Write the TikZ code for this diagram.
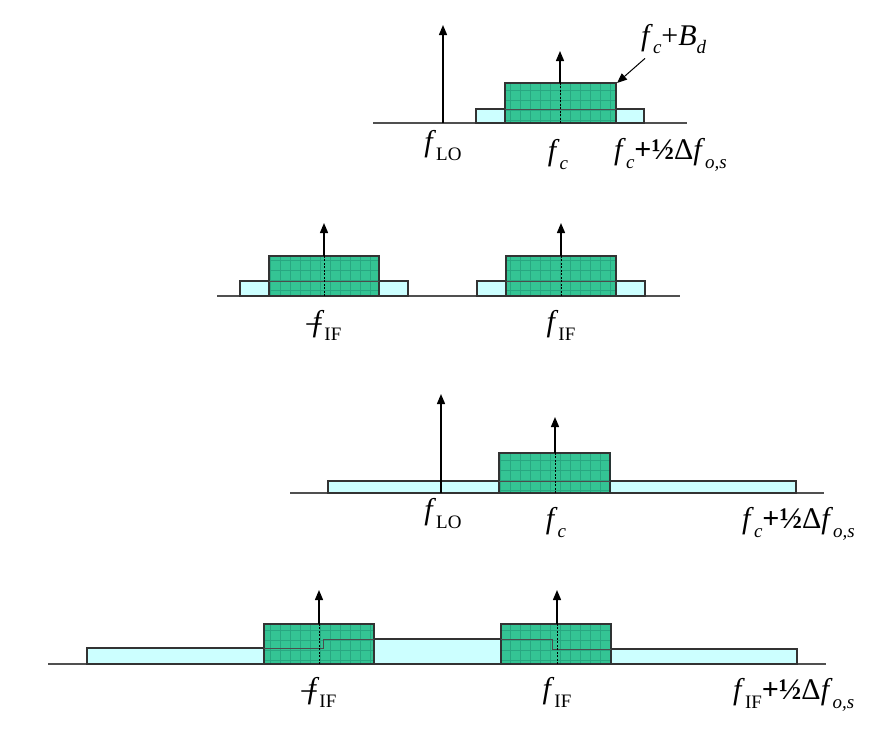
\documentclass[tikz,border=0pt]{standalone}
\usepackage{fontspec}
\setmainfont{Liberation Serif}
\usetikzlibrary{arrows.meta}
\definecolor{bandcyan}{RGB}{204,255,255}
\definecolor{bandgreen}{RGB}{52,196,148}
\definecolor{axisgray}{RGB}{80,80,80}
\newcommand{\fsub}[1]{\raisebox{-0.3em}{\fontsize{19}{19}\selectfont #1}}
\newcommand{\fit}{\textit{f}}
\newcommand{\halfdf}{\textbf{+½}Δ\textit{f}\fsub{\textit{o,s}}}

\tikzset{
  axisline/.style={draw=axisgray, line width=1.3pt},
  sideband/.style={fill=bandcyan, draw=black!80, line width=1.3pt},
  mainband/.style={fill=bandgreen, draw=black!80, line width=1.3pt},
  texture/.style={draw=teal!50!black, line width=0.4pt, opacity=0.22},
  seethru/.style={draw=black!70, line width=1pt},
  impulse/.style={-{Triangle[length=10pt,width=8pt]}, line width=1.4pt},
  hidden/.style={line width=0.8pt, dash pattern=on 2pt off 1.5pt},
  lbl/.style={font=\fontsize{30}{34}\selectfont, inner sep=1pt},
}

\begin{document}
\begin{tikzpicture}[x=1pt, y=-1pt]
    \useasboundingbox (0,0) rectangle (885,744);

    % RF spectrum
    \draw[axisline] (373,123) -- (687,123);
    \draw[sideband] (476,123) rectangle (644,109);
    \draw[mainband] (505,123) rectangle (616,83);
    \draw[texture, step=10pt] (505,123) grid (616,83);
    \draw[seethru] (505,109) -- (616,109);
    \coordinate (lo1) at (443,123);
    \coordinate (lo1top) at (443,25);
    \coordinate (c1) at (560,123);
    \coordinate (c1g) at (560,83);
    \coordinate (c1top) at (560,51);
    \coordinate (bdcorner) at (617,83);
    \draw[impulse] (lo1) -- (lo1top);
    \draw[hidden] (c1) -- (c1g);
    \draw[impulse] (c1g) -- (c1top);
    \node[lbl, anchor=base] (lo1lbl) at (443,151) {\fit\fsub{LO}};
    \node[lbl, anchor=base] (c1lbl) at (558,160) {\fit\fsub{\textit{c}}};
    \node[lbl, anchor=base west] (edge1lbl) at (613,159) {\fit\fsub{\textit{c}}\halfdf};
    \node[lbl, anchor=base west] (bdlbl) at (640,45) {\fit\fsub{\textit{c}}+\textit{B}\fsub{\textit{d}}};
    \draw[-{Triangle[length=10pt,width=8pt]}, line width=1pt] ([xshift=5pt,yshift=-3pt]bdlbl.south west) -- (bdcorner);

    % IF spectrum, narrow filter
    \draw[axisline] (217,296) -- (680,296);
    \draw[sideband] (240,296) rectangle (408,281);
    \draw[sideband] (477,296) rectangle (645,281);
    \draw[mainband] (269,296) rectangle (379,256);
    \draw[mainband] (506,296) rectangle (616,256);
    \draw[texture, step=10pt] (269,296) grid (379,256);
    \draw[texture, step=10pt] (506,296) grid (616,256);
    \draw[seethru] (269,281) -- (379,281);
    \draw[seethru] (506,281) -- (616,281);
    \coordinate (nif2) at (324,296);
    \coordinate (nif2g) at (324,256);
    \coordinate (nif2top) at (324,223);
    \coordinate (if2) at (561,296);
    \coordinate (if2g) at (561,256);
    \coordinate (if2top) at (561,223);
    \draw[hidden] (nif2) -- (nif2g);
    \draw[impulse] (nif2g) -- (nif2top);
    \draw[hidden] (if2) -- (if2g);
    \draw[impulse] (if2g) -- (if2top);
    \node[lbl, anchor=base] (nif2lbl) at (324,331) {--\kern-0.3em\fit\fsub{IF}};
    \node[lbl, anchor=base] (if2lbl) at (561,331) {\fit\fsub{IF}};

    % RF spectrum, wide filter
    \draw[axisline] (290,493) -- (824,493);
    \draw[sideband] (328,493) rectangle (796,481);
    \draw[mainband] (499,493) rectangle (610,453);
    \draw[texture, step=10pt] (499,493) grid (610,453);
    \draw[seethru] (499,481) -- (610,481);
    \coordinate (lo3) at (441,493);
    \coordinate (lo3top) at (441,394);
    \coordinate (c3) at (555,493);
    \coordinate (c3g) at (555,453);
    \coordinate (c3top) at (555,417);
    \draw[impulse] (lo3) -- (lo3top);
    \draw[hidden] (c3) -- (c3g);
    \draw[impulse] (c3g) -- (c3top);
    \node[lbl, anchor=base] (lo3lbl) at (443,519) {\fit\fsub{LO}};
    \node[lbl, anchor=base] (c3lbl) at (556,528) {\fit\fsub{\textit{c}}};
    \node[lbl, anchor=base west] (edge3lbl) at (741,528) {\fit\fsub{\textit{c}}\halfdf};

    % IF spectrum, wide filter (overlapping images)
    \draw[axisline] (48,664) -- (826,664);
    \draw[sideband] (87,664) -- (87,648) -- (323,648) -- (323,639) -- (552,639)
        -- (552,649) -- (797,649) -- (797,664) -- cycle;
    \draw[mainband] (264,664) rectangle (374,624);
    \draw[mainband] (501,664) rectangle (611,624);
    \draw[texture, step=10pt] (264,664) grid (374,624);
    \draw[texture, step=10pt] (501,664) grid (611,624);
    \draw[seethru] (264,648) -- (323,648) -- (323,639) -- (374,639);
    \draw[seethru] (501,639) -- (552,639) -- (552,649) -- (611,649);
    \coordinate (nif4) at (319,664);
    \coordinate (nif4g) at (319,624);
    \coordinate (nif4top) at (319,590);
    \coordinate (if4) at (557,664);
    \coordinate (if4g) at (557,624);
    \coordinate (if4top) at (557,590);
    \draw[hidden] (nif4) -- (nif4g);
    \draw[impulse] (nif4g) -- (nif4top);
    \draw[hidden] (if4) -- (if4g);
    \draw[impulse] (if4g) -- (if4top);
    \node[lbl, anchor=base] (nif4lbl) at (319,698) {--\kern-0.3em\fit\fsub{IF}};
    \node[lbl, anchor=base] (if4lbl) at (557,698) {\fit\fsub{IF}};
    \node[lbl, anchor=base west] (edge4lbl) at (732,699) {\fit\fsub{IF}\halfdf};
\end{tikzpicture}
\end{document}
